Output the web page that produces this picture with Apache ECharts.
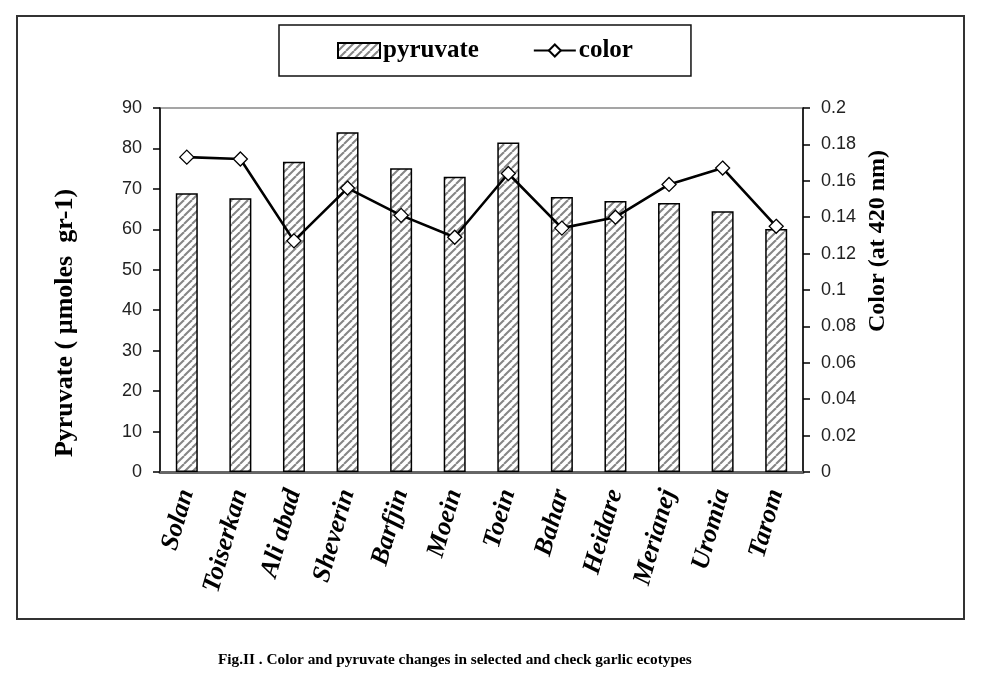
<!DOCTYPE html>
<html><head><meta charset="utf-8">
<script src="https://cdn.jsdelivr.net/npm/echarts@6/dist/echarts.min.js"></script>
<style>html,body{margin:0;padding:0;background:#fff}#c{width:1001px;height:679px}</style>
</head><body><div id="c"></div>
<script>
const categories = ['Solan','Toiserkan','Ali abad','Sheverin','Barfjin','Moein','Toein','Bahar','Heidare','Merianej','Uromia','Tarom'];
const pyruvate = [68.9, 67.7, 76.7, 84.0, 75.1, 73.0, 81.5, 68.0, 67.0, 66.5, 64.5, 60.1];
const colorValues = [0.173, 0.172, 0.127, 0.156, 0.141, 0.129, 0.164, 0.134, 0.140, 0.158, 0.167, 0.135];
const leftTicks = [0, 10, 20, 30, 40, 50, 60, 70, 80, 90];
const rightTicks = [0, 0.02, 0.04, 0.06, 0.08, 0.1, 0.12, 0.14, 0.16, 0.18, 0.2];

const SERIF = "'Liberation Serif','Times New Roman',serif";
const SANS = "'Liberation Sans',Arial,sans-serif";

// hatch pattern
const tile = 8;
const cv = document.createElement('canvas');
cv.width = tile; cv.height = tile;
const ctx = cv.getContext('2d');
ctx.fillStyle = '#fff'; ctx.fillRect(0, 0, tile, tile);
ctx.strokeStyle = '#858585'; ctx.lineWidth = 2;
for (const o of [-tile, 0, tile]) {
  ctx.beginPath(); ctx.moveTo(o, tile); ctx.lineTo(o + tile, 0); ctx.stroke();
}

const chart = echarts.init(document.getElementById('c'));
chart.setOption({
  backgroundColor: '#fff',
  animation: false,
  grid: { left: 160, right: 198, top: 108, bottom: 207, show: true, borderColor: '#888', borderWidth: 1.5, backgroundColor: 'transparent' },
  legend: {
    left: 279, top: 25,
    padding: [13, 58, 13, 58],
    borderColor: '#111', borderWidth: 1.5,
    itemWidth: 42, itemHeight: 15, itemGap: 54,
    textStyle: { fontFamily: SERIF, fontWeight: 'bold', fontSize: 25, color: '#000', padding: [0, 0, 0, -2] },
    data: [{ name: 'pyruvate', icon: 'rect' }, { name: 'color' }]
  },
  xAxis: {
    type: 'category', data: categories,
    axisLine: { lineStyle: { color: '#666', width: 3 } },
    axisTick: { length: 8, lineStyle: { color: '#000', width: 1.5 } },
    axisLabel: { rotate: 74, margin: 18, fontFamily: SERIF, fontWeight: 'bold', fontStyle: 'italic', fontSize: 26, color: '#000', interval: 0 }
  },
  yAxis: [
    {
      type: 'value', min: leftTicks[0], max: leftTicks[leftTicks.length - 1], interval: leftTicks[1] - leftTicks[0],
      axisLine: { show: true, lineStyle: { color: '#000', width: 1.5 } },
      axisTick: { show: true, length: 7, lineStyle: { color: '#000', width: 1.5 } },
      splitLine: { show: false },
      axisLabel: { margin: 18, fontFamily: SANS, fontSize: 18, color: '#222' }
    },
    {
      type: 'value', position: 'right', min: rightTicks[0], max: rightTicks[rightTicks.length - 1], interval: rightTicks[1] - rightTicks[0],
      axisLine: { show: true, lineStyle: { color: '#000', width: 1.5 } },
      axisTick: { show: true, length: 7, lineStyle: { color: '#000', width: 1.5 } },
      splitLine: { show: false },
      axisLabel: { margin: 18, fontFamily: SANS, fontSize: 18, color: '#222' }
    }
  ],
  series: [
    {
      name: 'pyruvate', type: 'bar', data: pyruvate, barWidth: 22, yAxisIndex: 0,
      itemStyle: { color: { image: cv, repeat: 'repeat' }, borderColor: '#000', borderWidth: 1.5 }
    },
    {
      name: 'color', type: 'line', data: colorValues, yAxisIndex: 1,
      lineStyle: { color: '#000', width: 2.6 },
      symbol: 'diamond', symbolSize: 14, showAllSymbol: true,
      itemStyle: { color: '#fff', borderColor: '#000', borderWidth: 1.3 },
      z: 5
    }
  ],
  graphic: [
    { type: 'rect', shape: { x: 17, y: 16, width: 947, height: 603 }, style: { fill: 'none', stroke: '#333', lineWidth: 2 }, silent: true },
    { type: 'text', x: 65, y: 323, rotation: Math.PI / 2,
      style: { text: 'Pyruvate ( µmoles  gr-1)', font: "bold 26px " + SERIF, fill: '#000', align: 'center', verticalAlign: 'middle' } },
    { type: 'text', x: 878, y: 241, rotation: Math.PI / 2,
      style: { text: 'Color (at 420 nm)', font: "bold 24px " + SERIF, fill: '#000', align: 'center', verticalAlign: 'middle' } },
    { type: 'text', x: 218, y: 660,
      style: { text: 'Fig.II . Color and pyruvate changes in selected and check garlic ecotypes', font: "bold 15.3px " + SERIF, fill: '#000', align: 'left', verticalAlign: 'middle' } }
  ]
});
</script></body></html>
